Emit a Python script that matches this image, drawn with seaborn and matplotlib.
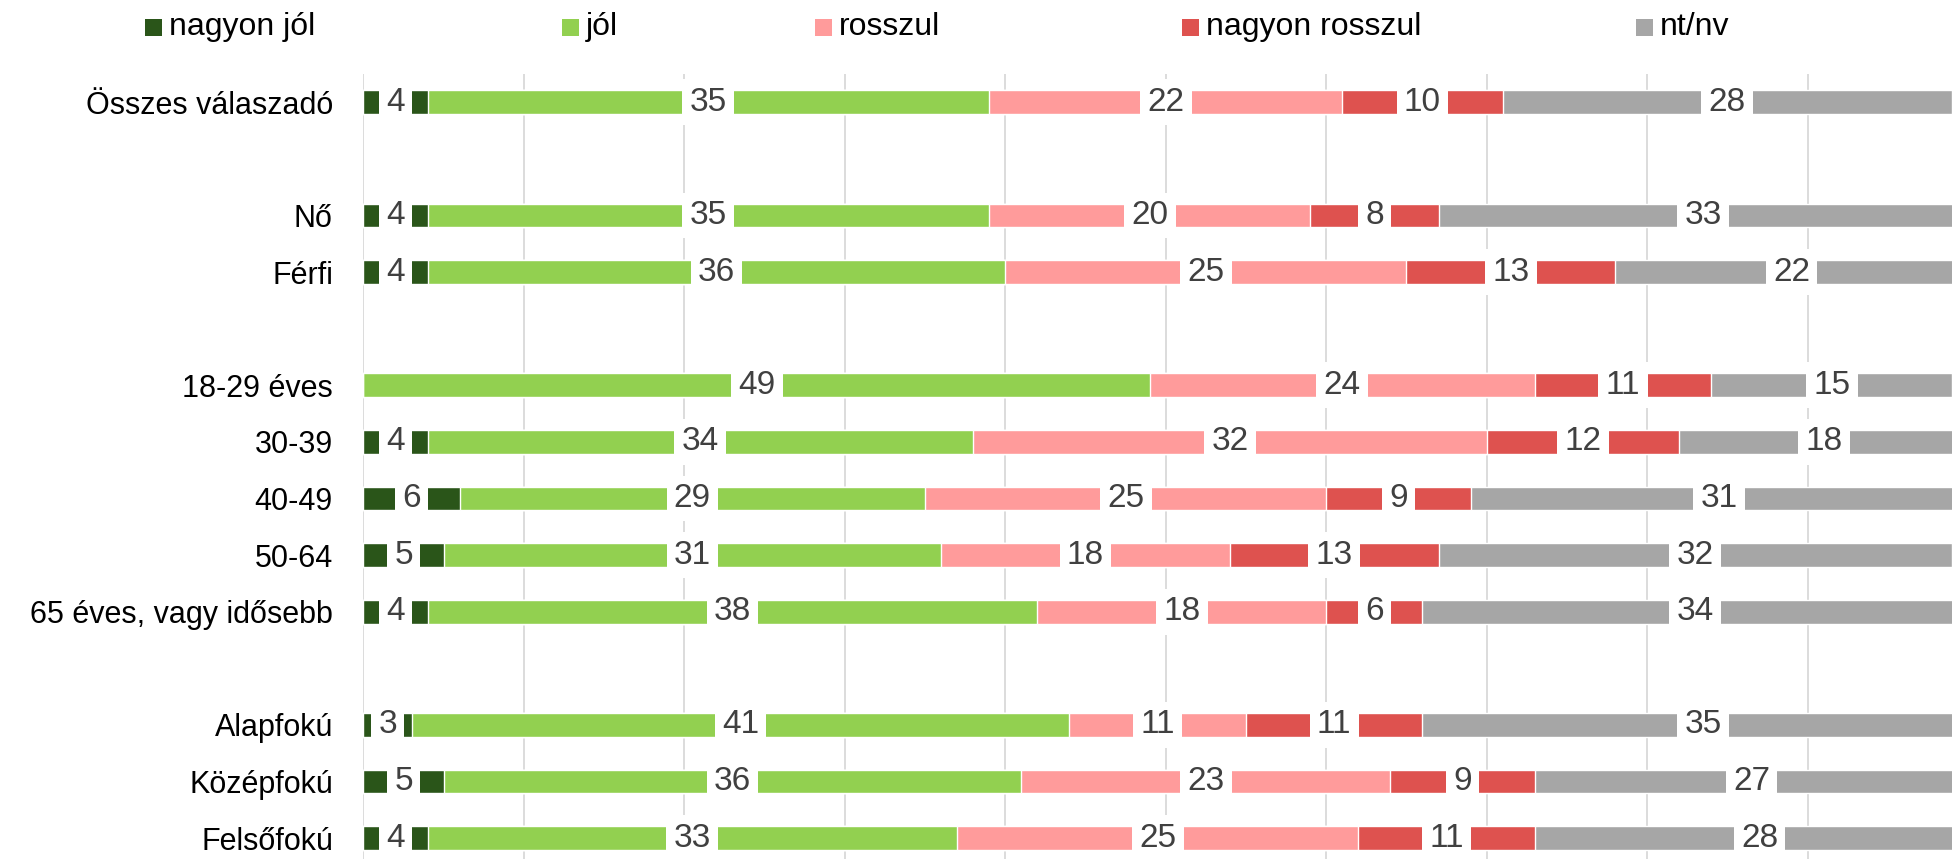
import matplotlib
matplotlib.use('Agg')
import matplotlib.pyplot as plt
from matplotlib.patches import Rectangle
import seaborn as sns
import numpy as np
import pandas as pd

# adatok
categories = ['Összes válaszadó', 'Nő', 'Férfi', '18-29 éves', '30-39', '40-49',
              '50-64', '65 éves, vagy idősebb', 'Alapfokú', 'Középfokú', 'Felsőfokú']
series = ['nagyon jól', 'jól', 'rosszul', 'nagyon rosszul', 'nt/nv']
nagyon_jol = [4, 4, 4, 0, 4, 6, 5, 4, 3, 5, 4]
jol = [35, 35, 36, 49, 34, 29, 31, 38, 41, 36, 33]
rosszul = [22, 20, 25, 24, 32, 25, 18, 18, 11, 23, 25]
nagyon_rosszul = [10, 8, 13, 11, 12, 9, 13, 6, 11, 9, 11]
ntnv = [28, 33, 22, 15, 18, 31, 32, 34, 35, 27, 28]
colors = ['#2A5519', '#92D050', '#FF9B9B', '#DE524F', '#A6A6A6']

# sorrend üres sorokkal a csoportok között
order = ['Összes válaszadó', ' ', 'Nő', 'Férfi', '  ', '18-29 éves', '30-39', '40-49',
         '50-64', '65 éves, vagy idősebb', '   ', 'Alapfokú', 'Középfokú', 'Felsőfokú']

sns.set_style('white')
plt.rcParams['font.family'] = ['Liberation Sans Narrow', 'Liberation Sans', 'DejaVu Sans']

vals = np.array([nagyon_jol, jol, rosszul, nagyon_rosszul, ntnv], dtype=float)
cum = vals.cumsum(axis=0)

fig = plt.figure(figsize=(19.52, 8.59), dpi=100)
ax = fig.add_axes([0.1862, 0.0, 0.8138, (859 - 74) / 859])

# utolsótól az elsőig rajzolva egymásra fedve = halmozott sávok
for i in range(len(series) - 1, -1, -1):
    df = pd.DataFrame({'kat': categories, 'ertek': cum[i]})
    sns.barplot(data=df, y='kat', x='ertek', order=order, orient='h',
                color=colors[i], width=0.42, ax=ax, saturation=1, zorder=2)

pos = {c: order.index(c) for c in categories}
for i in range(len(series)):
    for j, c in enumerate(categories):
        v = vals[i, j]
        if v <= 0:
            continue
        ax.text(cum[i, j] - v / 2, pos[c], f'{int(v)}', ha='center', va='center',
                fontsize=24, color='#404040', zorder=4,
                bbox=dict(boxstyle='square,pad=0.22', facecolor='white', edgecolor='none'))

ax.set_xlim(0, 99)
ax.set_ylim(13.37, -0.5)
ax.set_xticks(np.arange(0, 100, 10))
ax.xaxis.grid(True, color='#D9D9D9', linewidth=1.3, zorder=0)
ax.set_axisbelow(True)
ax.set_xticklabels([])
ax.set_xlabel('')
ax.set_ylabel('')
ax.tick_params(axis='both', length=0, pad=22)
ax.set_yticks(range(len(order)))
ax.set_yticklabels([o.strip() for o in order], fontsize=22, color='black')
for s in ax.spines.values():
    s.set_visible(False)

# jelmagyarázat
leg_box_x = [145, 562, 815, 1182, 1636]
for name, col, x in zip(series, colors, leg_box_x):
    fig.patches.append(Rectangle((x / 1952, 1 - 36 / 859), 17 / 1952, 17 / 859,
                                 transform=fig.transFigure, facecolor=col, edgecolor='none'))
    fig.text((x + 24) / 1952, 1 - 27 / 859, name, fontsize=23, color='black',
             ha='left', va='center')

fig.savefig('out.png', dpi=100)
